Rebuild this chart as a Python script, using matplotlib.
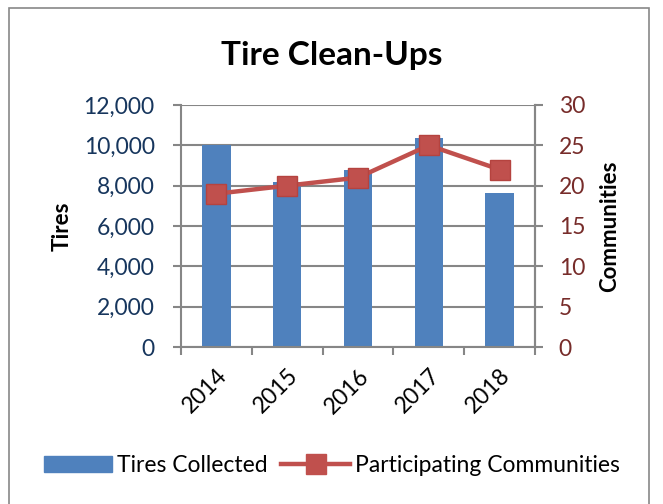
import numpy as np
import matplotlib.pyplot as plt
from matplotlib.patches import Rectangle
from matplotlib.lines import Line2D

plt.rcParams['font.family'] = ['Lato', 'DejaVu Sans']

years = ['2014', '2015', '2016', '2017', '2018']
tires = [10000, 8200, 8800, 10350, 7650]
communities = [19, 20, 21, 25, 22]

bar_color = '#4F81BD'
line_color = '#C0504D'
grid_color = '#868686'

fig = plt.figure(figsize=(6.63, 5.04), dpi=100)
ax = fig.add_axes([181/663, 1 - 347/504, 354/663, 242/504])
x = np.arange(len(years))

ax.bar(x, tires, width=0.4, color=bar_color, zorder=2)
ax.set_ylim(0, 12000)
ax.set_xlim(-0.5, len(years) - 0.5)
ax.set_yticks(np.arange(0, 12001, 2000))
ax.set_yticklabels([f'{v:,}' for v in range(0, 12001, 2000)])
ax.yaxis.grid(True, color=grid_color, lw=1.5, zorder=0)
ax.set_axisbelow(True)

ax.set_xticks(x)
ax.set_xticklabels(years, rotation=45, ha='right', va='top', rotation_mode='anchor',
                   fontsize=16.5)
ax.tick_params(axis='x', length=0, pad=13)
ax.set_xticks(np.arange(-0.5, len(years)), minor=True)
ax.tick_params(axis='x', which='minor', length=6, width=1.5, color=grid_color)
ax.tick_params(axis='y', labelsize=16.5, labelcolor='#17365D', length=6, width=1.5,
               color=grid_color, pad=13)
ax.spines['top'].set_visible(False)
for s in ['left', 'right', 'bottom']:
    ax.spines[s].set_color(grid_color)
    ax.spines[s].set_linewidth(1.5)
ax.set_ylabel('Tires', fontsize=16, fontweight='bold', labelpad=8)

ax2 = ax.twinx()
ax2.plot(x, communities, color=line_color, lw=3.2, marker='s', markersize=14,
         markerfacecolor=line_color, markeredgecolor='#B5433F', zorder=3)
ax2.set_ylim(0, 30)
ax2.set_yticks(np.arange(0, 31, 5))
ax2.tick_params(axis='y', labelsize=16.5, labelcolor='#772C2A', length=6, width=1.5,
                color=grid_color, pad=11)
for s in ['top', 'left', 'bottom']:
    ax2.spines[s].set_visible(False)
ax2.spines['right'].set_color(grid_color)
ax2.spines['right'].set_linewidth(1.5)
ax2.set_ylabel('Communities', fontsize=16, fontweight='bold', labelpad=10)

fig.text(0.5, 0.89, 'Tire Clean-Ups', ha='center', va='center', fontsize=24,
         fontweight='bold')

handles = [Rectangle((0, 0), 1, 1, color=bar_color),
           Line2D([], [], color=line_color, lw=3.2, marker='s', markersize=14)]
fig.legend(handles, ['Tires Collected', 'Participating Communities'],
           loc='center', bbox_to_anchor=(0.5, 0.077), ncol=2, frameon=False,
           fontsize=16.5, handlelength=3.0, handletextpad=0.2, columnspacing=0.6)

fig.add_artist(Rectangle((9/663, -0.01), 640/663, 1 - 8/504 + 0.01,
                         transform=fig.transFigure, fill=False,
                         edgecolor='#888888', lw=1.2))

fig.savefig('out.png', dpi=100)
